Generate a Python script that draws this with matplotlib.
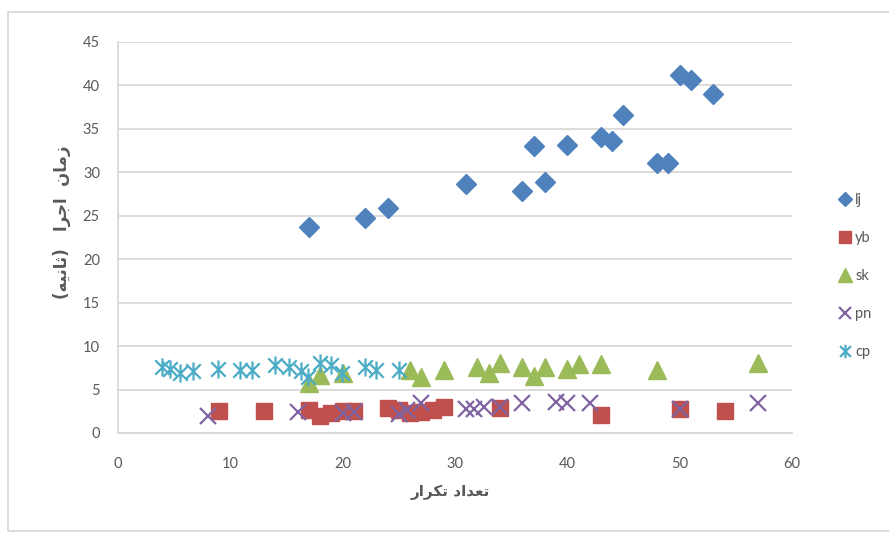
"""
Scatter of run time vs. iteration count for five methods (lj, yb, sk, pn, cp).
"""
import matplotlib
matplotlib.use("Agg")
import matplotlib.pyplot as plt
from matplotlib.path import Path
from matplotlib.patches import Rectangle

# iteration count / run time (s) for each method
lj_x = [17, 22, 24, 31, 36, 37, 38, 40, 43, 44, 45, 48, 49, 50, 51, 53]
lj_y = [23.7, 24.7, 25.9, 28.6, 27.9, 33.0, 28.9, 33.2, 34.1, 33.6, 36.6, 31.1, 31.1, 41.2, 40.6, 39.0]

yb_x = [9, 13, 17, 18, 19, 20, 21, 24, 25, 26, 27, 28, 29, 34, 43, 50, 54]
yb_y = [2.5, 2.5, 2.6, 2.0, 2.3, 2.5, 2.5, 2.9, 2.6, 2.3, 2.4, 2.7, 3.0, 2.9, 2.1, 2.8, 2.5]

sk_x = [17, 18, 20, 26, 27, 29, 32, 33, 34, 36, 37, 38, 40, 41, 43, 48, 57]
sk_y = [5.8, 6.7, 6.9, 7.2, 6.5, 7.2, 7.6, 6.9, 8.0, 7.6, 6.6, 7.6, 7.4, 7.9, 7.9, 7.25, 8.1]

pn_x = [8, 16, 20, 21, 25, 25.7, 27, 31, 31.7, 32.6, 34, 36, 39, 40, 42, 50, 57]
pn_y = [1.9, 2.4, 2.3, 2.4, 2.2, 2.6, 3.4, 2.8, 2.8, 3.0, 3.0, 3.4, 3.6, 3.4, 3.4, 2.8, 3.5]

cp_x = [3.9, 4.6, 5.5, 6.7, 8.9, 10.9, 11.9, 14.0, 15.2, 16.3, 16.9, 18.0, 19.0, 19.9, 22.0, 23.0, 25.0]
cp_y = [7.6, 7.4, 6.9, 7.1, 7.4, 7.2, 7.2, 7.8, 7.6, 7.1, 6.5, 8.0, 7.8, 6.9, 7.6, 7.3, 7.2]

xticks = [0, 10, 20, 30, 40, 50, 60]
yticks = [0, 5, 10, 15, 20, 25, 30, 35, 40, 45]

# Persian titles, pre-shaped (presentation forms, visual order) since Agg has no bidi
x_title = "\uFEAD\uFE8D\uFEAE\uFEDC\uFE97 \uFEA9\uFE8D\uFEAA\uFECC\uFE97"          # تعداد تکرار
y_title = ("(\uFEEA\uFEF4\uFEE7\uFE8E\uFE9B)   \uFE8D\uFEAE\uFE9F\uFE8D  "
           "\uFEE5\uFE8E\uFEE3\uFEAF")                                              # زمان اجرا (ثانیه)

GRID = "#d9d9d9"
TEXT = "#595959"

# excel-style "star" marker: an x with a vertical stroke
star = Path([(-1, -1), (1, 1), (-1, 1), (1, -1), (0, -1.25), (0, 1.25)],
            [Path.MOVETO, Path.LINETO, Path.MOVETO, Path.LINETO, Path.MOVETO, Path.LINETO])

plt.rcParams["font.family"] = ["Lato", "DejaVu Sans"]

fig = plt.figure(figsize=(8.89, 5.33), dpi=100)
ax = fig.add_axes([118 / 889, 1 - 433 / 533, (792 - 118) / 889, (433 - 42) / 533])

ax.plot(lj_x, lj_y, "D", ms=10, color="#4f81bd", label="lj", ls="none")
ax.plot(yb_x, yb_y, "s", ms=12, color="#c0504d", label="yb", ls="none")
ax.plot(sk_x, sk_y, "^", ms=13, color="#9bbb59", label="sk", ls="none")
ax.plot(pn_x, pn_y, "x", ms=11, mew=1.6, color="#8064a2", label="pn", ls="none")
ax.plot(cp_x, cp_y, marker=star, ms=13, mew=1.6, mfc="none", color="#4bacc6",
        label="cp", ls="none")

ax.set_xlim(0, 60)
ax.set_ylim(0, 45)
ax.set_xticks(xticks)
ax.set_yticks(yticks)
ax.tick_params(length=0, labelsize=10.5, labelcolor=TEXT)
ax.tick_params(axis="x", pad=17)
ax.tick_params(axis="y", pad=13)
ax.grid(axis="y", color=GRID, lw=1.3)
ax.set_axisbelow(True)
for side in ["top", "right"]:
    ax.spines[side].set_visible(False)
for side in ["left", "bottom"]:
    ax.spines[side].set_color(GRID)
    ax.spines[side].set_linewidth(1.3)

fig.text(450 / 889, 1 - 492 / 533, x_title, ha="center", va="center",
         fontsize=11, fontweight="bold", color=TEXT, family="DejaVu Sans")
fig.text(62 / 889, 1 - 222 / 533, y_title, ha="center", va="center", rotation=90,
         fontsize=12, fontweight="bold", color=TEXT, family="DejaVu Sans")

leg = fig.legend(loc="center left", bbox_to_anchor=(826 / 889, 1 - 276 / 533),
                 frameon=False, fontsize=10.5, labelspacing=1.65,
                 handlelength=0.8, handletextpad=0.3, markerscale=0.75)
for t in leg.get_texts():
    t.set_color(TEXT)

# chart outline (right edge runs off the canvas)
fig.patches.append(Rectangle((8 / 889, 2 / 533), 890 / 889, 519 / 533,
                             transform=fig.transFigure, fill=False,
                             edgecolor=GRID, lw=1.3))

fig.savefig("out.png", dpi=100)
